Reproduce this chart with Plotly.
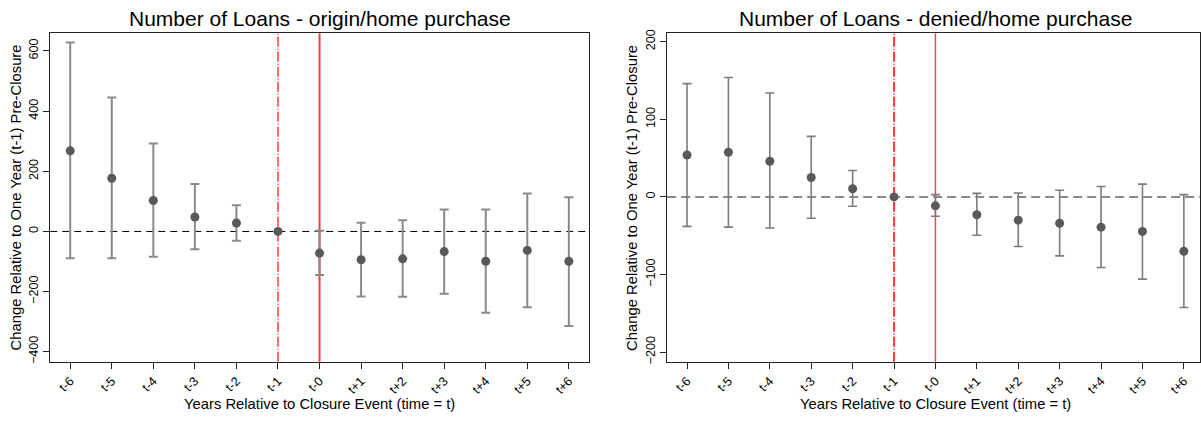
import plotly.graph_objects as go

# Event-time labels (years relative to closure)
periods = ["t-6", "t-5", "t-4", "t-3", "t-2", "t-1", "t-0",
           "t+1", "t+2", "t+3", "t+4", "t+5", "t+6"]

# Originated home-purchase loans: point estimate and 95% CI
orig_est = [268, 177, 103, 48, 28, 0, -72, -94, -91, -67, -99, -63, -99]
orig_lo = [-89, -89, -84, -59, -31, None, -145, -216, -217, -207, -270, -252, -314]
orig_hi = [628, 445, 292, 158, 87, None, 2, 29, 37, 73, 73, 126, 114]

# Denied home-purchase loans: point estimate and 95% CI
den_est = [54, 57.5, 46, 25, 10.5, 0, -11.5, -23, -30, -34, -39, -44.5, -70]
den_lo = [-38, -39, -40, -27.5, -12, None, -25, -49.5, -64, -76, -91, -106, -142.5]
den_hi = [146, 154, 134, 78, 34, None, 3, 4.5, 5, 8.5, 13.5, 16.5, 3]

orig_ticks = [-400, -200, 0, 200, 400, 600]
den_ticks = [-200, -100, 0, 100, 200]

titles = ["Number of Loans - origin/home purchase",
          "Number of Loans - denied/home purchase"]
x_title = "Years Relative to Closure Event (time = t)"
y_title = "Change Relative to One Year (t-1) Pre-Closure"

FONT = "Liberation Sans, Arial, Helvetica, sans-serif"
W, H = 1201, 424
RED = "#ff3b3b"
DOT = "#595959"

fig = go.Figure()

panels = [
    dict(est=orig_est, lo=orig_lo, hi=orig_hi, ticks=orig_ticks, yr=[-433, 659],
         xr=[-0.48, 12.48], dom=[50.3 / W, 589.3 / W], bar="#8a8a8a", bw=2.0,
         zero=dict(color="black", width=1, dash="7px,5px"),
         vdash=1.5, vsolid=2.0),
    dict(est=den_est, lo=den_lo, hi=den_hi, ticks=den_ticks, yr=[-212.4, 211],
         xr=[-0.48, 12.39], dom=[667.7 / W, 1.0], bar="#7c7c7c", bw=1.6,
         zero=dict(color="#8a8a8a", width=2, dash="9px,5px"),
         vdash=2.0, vsolid=1.4),
]

ydom = [1 - 363.7 / H, 1 - 29.7 / H]

for i, p in enumerate(panels, start=1):
    xa = "x" if i == 1 else f"x{i}"
    ya = "y" if i == 1 else f"y{i}"

    # Confidence intervals (the reference year t-1 has none)
    keep = [k for k in range(len(periods)) if p["lo"][k] is not None]
    fig.add_trace(go.Scatter(
        x=[periods[k] for k in keep],
        y=[p["est"][k] for k in keep],
        mode="markers", marker=dict(size=0.1, color="rgba(0,0,0,0)"),
        error_y=dict(type="data", symmetric=False,
                     array=[p["hi"][k] - p["est"][k] for k in keep],
                     arrayminus=[p["est"][k] - p["lo"][k] for k in keep],
                     color=p["bar"], thickness=p["bw"], width=4.5),
        xaxis=xa, yaxis=ya, showlegend=False, hoverinfo="skip"))

    # Point estimates
    fig.add_trace(go.Scatter(
        x=periods, y=p["est"], mode="markers",
        marker=dict(size=9, color=DOT),
        xaxis=xa, yaxis=ya, showlegend=False))

    axis_common = dict(showline=True, linecolor="#222", linewidth=1, mirror=True,
                       ticks="outside", ticklen=6, tickcolor="#222",
                       showgrid=False, zeroline=False,
                       tickfont=dict(family=FONT, size=12.6, color="black"))
    fig.update_layout({
        f"xaxis{'' if i == 1 else i}": dict(
            axis_common, domain=p["dom"], anchor=ya, type="category",
            categoryorder="array", categoryarray=periods,
            range=p["xr"], tickangle=-45),
        f"yaxis{'' if i == 1 else i}": dict(
            axis_common, domain=ydom, anchor=xa, range=p["yr"],
            tickvals=p["ticks"], tickangle=-90),
    })

    # Zero reference line
    fig.add_shape(type="line", xref=f"{xa} domain", yref=ya,
                  x0=0, x1=1, y0=0, y1=0, line=p["zero"], layer="below")
    # Year before closure (dashed) and closure year (solid)
    fig.add_shape(type="line", xref=xa, yref=f"{ya} domain",
                  x0="t-1", x1="t-1", y0=0, y1=1,
                  line=dict(color=RED, width=p["vdash"], dash="10px,2px,1px,2px"),
                  layer="below")
    fig.add_shape(type="line", xref=xa, yref=f"{ya} domain",
                  x0="t-0", x1="t-0", y0=0, y1=1,
                  line=dict(color=RED, width=p["vsolid"]), layer="below")

annotations = []
title_cx = [319.8 / W, 936 / W]
ytitle_cx = [16 / W, 633 / W]
for k in range(2):
    annotations.append(dict(text=titles[k], x=title_cx[k], y=1 - 15 / H,
                            xref="paper", yref="paper", showarrow=False,
                            xanchor="center", yanchor="middle",
                            font=dict(family=FONT, size=21, color="black")))
    annotations.append(dict(text=x_title, x=title_cx[k], y=1 - 407 / H,
                            xref="paper", yref="paper", showarrow=False,
                            xanchor="center", yanchor="middle",
                            font=dict(family=FONT, size=14.8, color="black")))
    annotations.append(dict(text=y_title, x=ytitle_cx[k], y=1 - 196.7 / H,
                            xref="paper", yref="paper", showarrow=False,
                            textangle=-90, xanchor="center", yanchor="middle",
                            font=dict(family=FONT, size=14.8, color="black")))

fig.update_layout(width=W, height=H, margin=dict(l=0, r=0, t=0, b=0),
                  paper_bgcolor="white", plot_bgcolor="white",
                  annotations=annotations, showlegend=False)

fig.write_html("out.html")
